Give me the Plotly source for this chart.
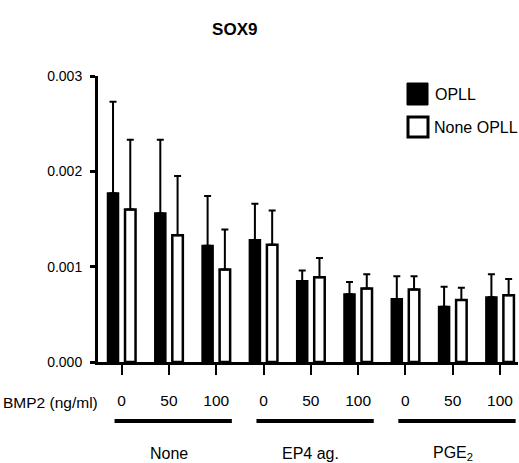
import plotly.graph_objects as go

# ---- data ----
groups = ["None", "EP4 ag.", "PGE<sub>2</sub>"]
doses = ["0", "50", "100"]
tick_labels = doses * 3
opll = [0.00177, 0.00156, 0.00122, 0.00128, 0.00085, 0.00071, 0.00066, 0.00058, 0.00068]
opll_err = [0.00096, 0.00077, 0.00052, 0.00038, 0.00011, 0.00013, 0.00024, 0.00021, 0.00024]
none_opll = [0.00160, 0.00133, 0.00097, 0.00123, 0.00089, 0.00077, 0.00076, 0.00065, 0.00070]
none_opll_err = [0.00073, 0.00062, 0.00042, 0.00036, 0.00020, 0.00015, 0.00014, 0.00013, 0.00017]

x = list(range(len(tick_labels)))

FONT = "Liberation Sans, Arial, Helvetica, sans-serif"

W, H = 519, 463
L, R, T, B = 98, 518, 76, 362


def px(xp):
    return (xp - L) / (R - L)


def py(yp):
    return (B - yp) / (B - T)


fig = go.Figure()
fig.add_trace(go.Bar(
    x=x, y=opll, name="OPLL",
    marker=dict(color="black", line=dict(color="black", width=2)),
    error_y=dict(type="data", array=opll_err, arrayminus=[0] * len(x), symmetric=False,
                 color="black", thickness=2, width=3.5),
    showlegend=False, hoverinfo="skip",
))
fig.add_trace(go.Bar(
    x=x, y=none_opll, name="None OPLL",
    marker=dict(color="white", line=dict(color="black", width=2.5)),
    error_y=dict(type="data", array=none_opll_err, arrayminus=[0] * len(x), symmetric=False,
                 color="black", thickness=2, width=3.5),
    showlegend=False, hoverinfo="skip",
))

shapes = []
annotations = []

# group underline bars and labels
for gi, g in enumerate(groups):
    c0 = gi * 3
    shapes.append(dict(type="line", xref="x", yref="paper",
                       x0=c0 - 0.15, x1=c0 + 2.33, y0=py(421), y1=py(421),
                       line=dict(color="black", width=4)))
    annotations.append(dict(text=g, xref="x", yref="paper", x=c0 + 1, y=py(453),
                            showarrow=False, font=dict(family=FONT, size=16, color="black"),
                            xanchor="center", yanchor="middle"))

annotations.append(dict(text="BMP2 (ng/ml)", xref="paper", yref="paper",
                        x=px(100), y=py(402), xanchor="right", yanchor="middle",
                        showarrow=False, font=dict(family=FONT, size=15.5, color="black")))

# custom legend
shapes.append(dict(type="rect", xref="paper", yref="paper",
                   x0=px(407), x1=px(428), y0=py(105), y1=py(83),
                   fillcolor="black", line=dict(color="black", width=1)))
shapes.append(dict(type="rect", xref="paper", yref="paper",
                   x0=px(408), x1=px(428), y0=py(137), y1=py(117),
                   fillcolor="white", line=dict(color="black", width=3)))
annotations.append(dict(text="OPLL", xref="paper", yref="paper", x=px(433), y=py(94),
                        xanchor="left", yanchor="middle", showarrow=False,
                        font=dict(family=FONT, size=16, color="black")))
annotations.append(dict(text="None OPLL", xref="paper", yref="paper", x=px(432), y=py(127),
                        xanchor="left", yanchor="middle", showarrow=False,
                        font=dict(family=FONT, size=16, color="black")))

fig.update_layout(
    width=W, height=H,
    margin=dict(l=L, r=W - R, t=T, b=H - B),
    paper_bgcolor="white", plot_bgcolor="white",
    barmode="group", bargap=0.27, bargroupgap=0.39,
    title=dict(text="<b>SOX9</b>", x=px(288), xanchor="center",
               y=1 - 29 / H, yanchor="middle",
               font=dict(family=FONT, size=17, color="black")),
    xaxis=dict(range=[-0.5, 8.38], tickmode="array", tickvals=x, ticktext=tick_labels,
               showline=True, linecolor="black", linewidth=3, showgrid=False, zeroline=False,
               ticks="outside", ticklen=10, tickwidth=2, tickcolor="black",
               tickfont=dict(family=FONT, size=15.5, color="black"), ticklabelstandoff=12),
    yaxis=dict(range=[0, 0.003], tickvals=[0, 0.001, 0.002, 0.003], tickformat=".3f",
               showline=True, linecolor="black", linewidth=3, showgrid=False, zeroline=False,
               ticks="outside", ticklen=5, tickwidth=3, tickcolor="black",
               tickfont=dict(family=FONT, size=14, color="black"), ticklabelstandoff=5),
    shapes=shapes, annotations=annotations,
)

fig.write_html("out.html", config={"displayModeBar": False},
               post_script="document.body.style.margin='0';document.body.style.padding='0';")
